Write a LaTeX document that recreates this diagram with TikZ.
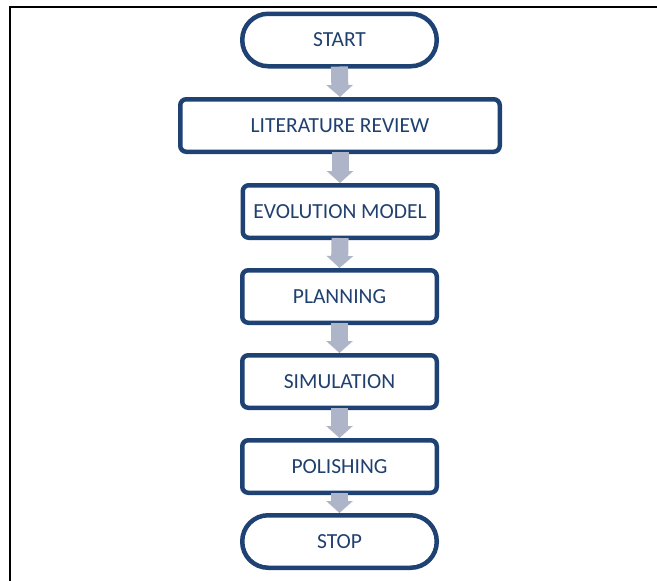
\documentclass[tikz,border=0pt]{standalone}
\usepackage{fontspec}
\setmainfont{Carlito}
\usetikzlibrary{arrows.meta}
\definecolor{navy}{RGB}{30,66,115}
\definecolor{inknavy}{RGB}{32,64,112}
\definecolor{flowgray}{RGB}{174,181,200}
\tikzset{
  x=1pt, y=1pt,
  stepbox/.style={draw=navy, line width=4.5pt, fill=white, rounded corners=6pt,
    minimum height=52.5pt, minimum width=194.5pt, inner sep=0pt,
    text=inknavy, font=\fontsize{21.5}{24}\selectfont},
  terminal/.style={stepbox, rounded corners=26pt},
  flow/.style={draw=flowgray, line width=17pt,
    -{Triangle[width=26pt,length=12pt]}, shorten <=-2pt},
  frame/.style={line width=2.5pt, black}
}
\begin{document}
\begin{tikzpicture}
  \useasboundingbox (0,0) rectangle (657,-581);
  % page frame
  \coordinate (ftl) at (10,-7);
  \coordinate (ftr) at (657,-7);
  \coordinate (fbl) at (10,-581);
  \draw[frame] (ftr) -- (ftl) -- (fbl);
  % flowchart steps
  \node[terminal] (start) at (339.5,-40) {START};
  \node[stepbox, minimum width=319.5pt] (lit) at (340,-125.5) {LITERATURE REVIEW};
  \node[stepbox] (evo) at (340,-211.5) {EVOLUTION MODEL};
  \node[stepbox] (plan) at (339.5,-296.5) {PLANNING};
  \node[stepbox] (sim) at (339.5,-381.5) {SIMULATION};
  \node[stepbox] (pol) at (339.5,-466.5) {POLISHING};
  \node[terminal] (stop) at (339.5,-541.5) {STOP};
  % connectors
  \draw[flow] (start.south) -- (lit.north);
  \draw[flow] (lit.south) -- (evo.north);
  \draw[flow] (evo.south) -- (plan.north);
  \draw[flow] (plan.south) -- (sim.north);
  \draw[flow] (sim.south) -- (pol.north);
  \draw[flow] (pol.south) -- (stop.north);
\end{tikzpicture}
\end{document}
